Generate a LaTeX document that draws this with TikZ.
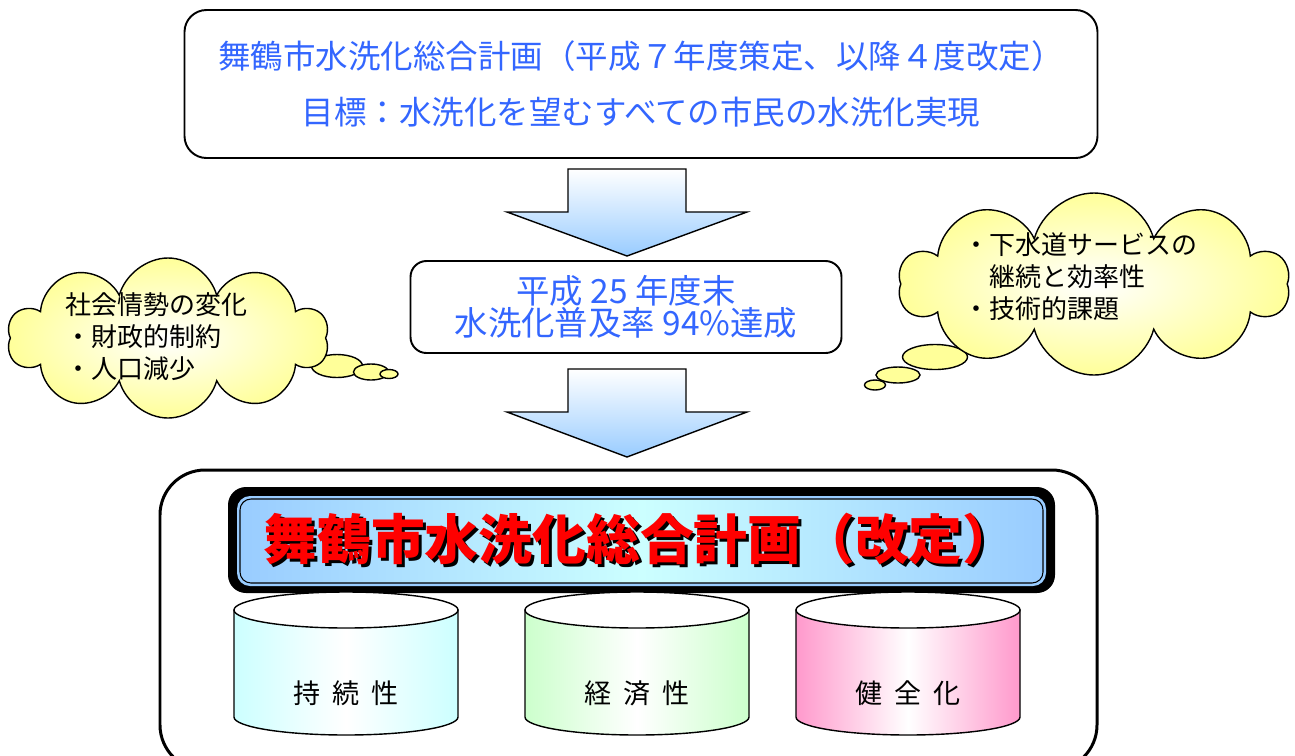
\documentclass[tikz,border=0pt]{standalone}
\usepackage{fontspec}
\setmainfont{Noto Sans CJK JP}
\usetikzlibrary{positioning,shapes.symbols,shapes.geometric}
\definecolor{planblue}{RGB}{51,102,255}
\definecolor{arrowblue}{RGB}{153,204,255}
\definecolor{cloudyellow}{RGB}{255,255,153}
\definecolor{banblue}{RGB}{153,204,255}
\definecolor{bancyan}{RGB}{204,255,255}
\definecolor{cylcyan}{RGB}{204,255,255}
\definecolor{cylgreen}{RGB}{204,255,204}
\definecolor{cylpink}{RGB}{255,153,204}
\newlength\pxl
\setlength\pxl{0.02cm}
\newcommand{\shadowtext}[1]{\makebox[0pt][l]{\raisebox{-3\pxl}{\hspace{3\pxl}\textcolor{black}{#1}}}\textcolor{red}{#1}}

\begin{document}
\begin{tikzpicture}[
    x=0.02cm, y=-0.02cm,
    planbox/.style={draw, line width=1.1pt, rounded corners=22\pxl, align=center, text=planblue, inner sep=0pt},
    cloudbox/.style={cloud, draw, line width=0.8pt, cloud puffs=10, aspect=2.3, inner color=white, outer color=cloudyellow},
    cloudtext/.style={align=left, anchor=west, inner sep=0pt, font=\fontsize{14.8}{18.2}\selectfont},
    bubble/.style={ellipse, draw, line width=0.8pt, fill=cloudyellow, inner sep=0pt},
    cyltext/.style={font=\fontsize{15.4}{16}\selectfont}
    ]

    \useasboundingbox (0,0) rectangle (1295,755);

    % plan and result
    \node[planbox, minimum width=913\pxl, minimum height=148\pxl, font=\fontsize{18.5}{31.9}\selectfont] (plan) at (641,84)
    {舞鶴市水洗化総合計画（平成７年度策定、以降４度改定）\\目標：水洗化を望むすべての市民の水洗化実現};
    \node[planbox, rounded corners=16\pxl, minimum width=431\pxl, minimum height=92\pxl, font=\fontsize{19}{18.2}\selectfont] (goal) at (626,307)
    {平成 25 年度末\\水洗化普及率 94\%達成};

    % block arrows
    \foreach \yt/\yb/\yp in {169/212/256, 369/412/457}
    \shade[draw, line width=0.8pt, top color=white, bottom color=arrowblue]
    (568,\yt) -- (686,\yt) -- (686,\yb) -- (747,\yb) -- (627,\yp) -- (507,\yb) -- (568,\yb) -- cycle;

    % thought clouds
    \node[bubble, minimum width=51\pxl, minimum height=23\pxl] (socB1) at (337,366) {};
    \node[bubble, minimum width=35\pxl, minimum height=16\pxl] (socB2) at (371,372) {};
    \node[bubble, minimum width=18\pxl, minimum height=9\pxl] (socB3) at (389,374) {};
    \node[cloudbox, minimum width=321\pxl, minimum height=160\pxl] (socC) at (168,338) {};
    \node[cloudtext] (socT) at (65,337) {社会情勢の変化\\・財政的制約\\・人口減少};

    \node[bubble, minimum width=65\pxl, minimum height=25\pxl] (tecB1) at (935,357) {};
    \node[bubble, minimum width=44\pxl, minimum height=16\pxl] (tecB2) at (898,375) {};
    \node[bubble, minimum width=21\pxl, minimum height=10\pxl] (tecB3) at (875,385) {};
    \node[cloudbox, minimum width=390\pxl, minimum height=182\pxl] (tecC) at (1094,284) {};
    \node[cloudtext] (tecT) at (963,277) {・下水道サービスの\\　継続と効率性\\・技術的課題};

    % revised plan
    \node[draw, line width=1.7pt, rounded corners=45\pxl, minimum width=937\pxl, minimum height=300\pxl] (frame) at (628.5,620) {};
    \node[fill=black, rounded corners=18\pxl, minimum width=827\pxl, minimum height=106\pxl] (banner) at (641.5,540) {};
    \node[fill=banblue, rounded corners=13\pxl, minimum width=809\pxl, minimum height=90\pxl] (bannerring) at (641.5,541) {};
    \node[draw, line width=0.6pt, rounded corners=11\pxl, minimum width=803\pxl, minimum height=84\pxl,
      left color=banblue, right color=banblue, middle color=bancyan] (bannerin) at (641.5,541) {};
    \node[font=\fontsize{30.6}{31}\selectfont\bfseries] (title) at (640,541) {\shadowtext{舞鶴市水洗化総合計画（改定）}};

    % pillars
    \foreach \cx/\cc/\lab [count=\i] in {346/cylcyan/{持\hspace{.45em}続\hspace{.45em}性},
      637/cylgreen/{経\hspace{.45em}済\hspace{.45em}性}, 908/cylpink/{健\hspace{.45em}全\hspace{.45em}化}} {
      \path[draw, line width=0.8pt, left color=\cc, right color=\cc, middle color=white]
      (\cx-112,610) -- (\cx-112,717) arc[start angle=180, end angle=360, x radius=112\pxl, y radius=18\pxl] -- (\cx+112,610) -- cycle;
      \draw[line width=0.8pt, fill=white] (\cx,610) ellipse[x radius=112\pxl, y radius=18\pxl];
      \node[cyltext] (pillar\i) at (\cx,693) {\lab};
    }

  \end{tikzpicture}
\end{document}
